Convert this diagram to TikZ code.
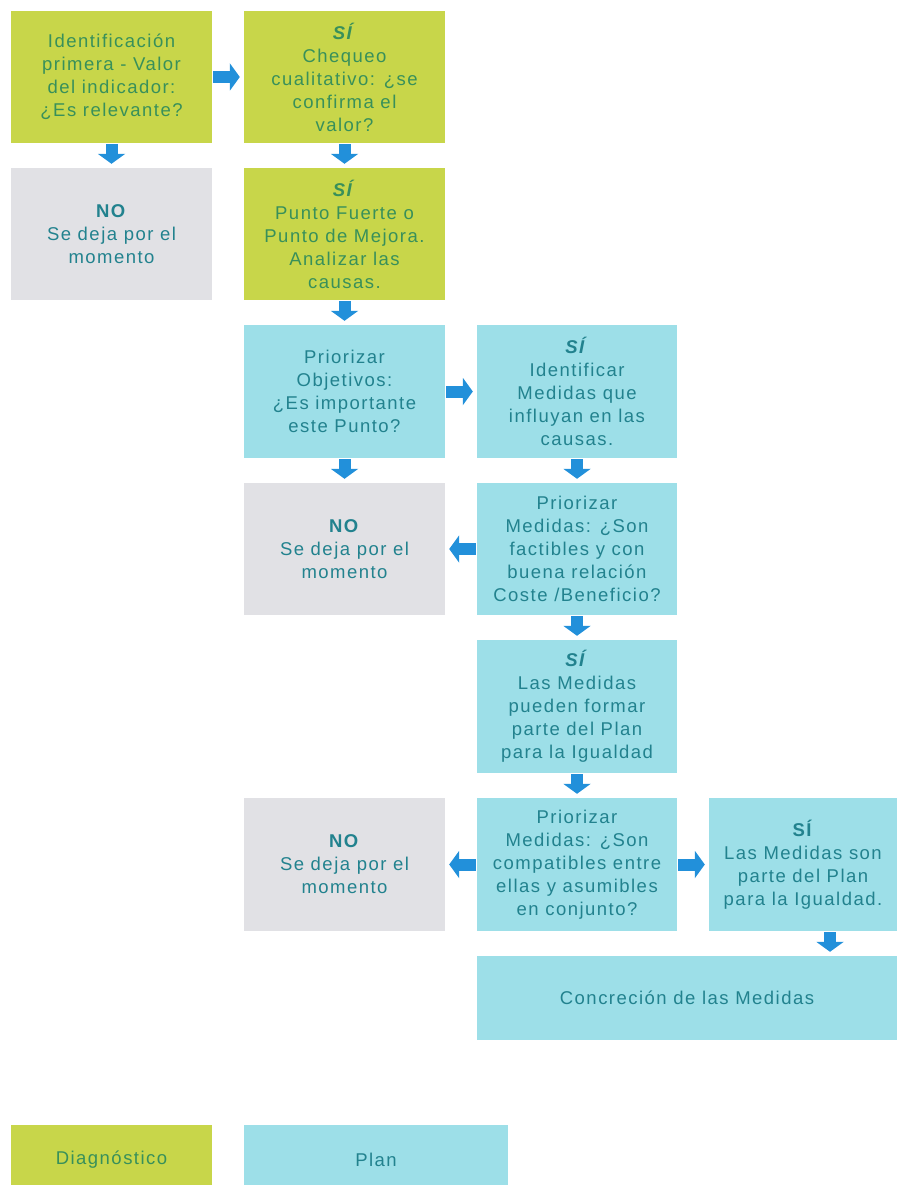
\documentclass[tikz,border=0pt]{standalone}
\usepackage{fontspec}
\setmainfont{Liberation Sans}[LetterSpace=8]
\usetikzlibrary{arrows.meta,calc}
\definecolor{gfill}{HTML}{C8D64A}
\definecolor{bfill}{HTML}{9DDFE8}
\definecolor{nfill}{HTML}{E1E1E5}
\definecolor{gtext}{HTML}{38905A}
\definecolor{btext}{HTML}{22828E}
\definecolor{arrcol}{HTML}{2290DA}
\newcommand{\si}{\textbf{\textit{SÍ}}}
\newcommand{\siup}{\textbf{SÍ}}
\newcommand{\no}{\textbf{NO}}
\begin{document}
\begin{tikzpicture}[x=1pt,y=-1pt,
  box/.style={rectangle, minimum width=201pt, minimum height=132pt, align=center,
              inner sep=0pt, font=\fontsize{18.5}{23}\selectfont},
  gbox/.style={box, fill=gfill, text=gtext},
  bbox/.style={box, fill=bfill, text=btext},
  nbox/.style={box, fill=nfill, text=btext},
  arr/.style={draw=arrcol, line width=12pt, -{Triangle[width=27pt,length=10pt]},
              shorten <=1pt, shorten >=4pt}]
\useasboundingbox (0,0) rectangle (897,1185);
\clip (0,0) rectangle (897,1185);
% row 1
\node[gbox] (g1) at (111.5,77) {Identificación\\primera - Valor\\del indicador:\\¿Es relevante?};
\node[gbox] (g2) at (344.5,77) {\si\\Chequeo\\cualitativo: ¿se\\confirma el\\valor?};
% row 2
\node[nbox] (n1) at (111.5,234) {\no\\Se deja por el\\momento};
\node[gbox] (g3) at (344.5,234) {\si\\Punto Fuerte o\\Punto de Mejora.\\Analizar las\\causas.};
% row 3
\node[bbox, minimum height=133pt] (b1) at (344.5,391.5) {Priorizar\\Objetivos:\\¿Es importante\\este Punto?};
\node[bbox, minimum height=133pt, minimum width=200pt] (b2) at (577,391.5) {\si\\Identificar\\Medidas que\\influyan en las\\causas.};
% row 4
\node[nbox] (n2) at (344.5,549) {\no\\Se deja por el\\momento};
\node[bbox, minimum width=200pt] (b3) at (577,549) {Priorizar\\Medidas: ¿Son\\factibles y con\\buena relación\\Coste /Beneficio?};
% row 5
\node[bbox, minimum height=133pt, minimum width=200pt] (b4) at (577,706.5) {\si\\Las Medidas\\pueden formar\\parte del Plan\\para la Igualdad};
% row 6
\node[nbox, minimum height=133pt] (n3) at (344.5,864.5) {\no\\Se deja por el\\momento};
\node[bbox, minimum height=133pt, minimum width=200pt] (b5) at (577,864.5) {Priorizar\\Medidas: ¿Son\\compatibles entre\\ellas y asumibles\\en conjunto?};
\node[bbox, minimum height=133pt, minimum width=188pt] (b6) at (803,864.5) {\siup\\Las Medidas son\\parte del Plan\\para la Igualdad.};
% row 7
\node[bbox, minimum height=84pt, minimum width=420pt] (conc) at (687,998) {Concreción de las Medidas};
% legend
\node[gbox, minimum height=70pt] (legD) at (111.5,1160) {Diagnóstico};
\node[bbox, minimum height=70pt, minimum width=264pt] (legP) at (376,1160) {Plan};
% arrows
\draw[arr] (g1.east) -- (g2.west);
\draw[arr] (g1.south) -- (n1.north);
\draw[arr] (g2.south) -- (g3.north);
\draw[arr] (g3.south) -- (b1.north);
\draw[arr] (b1.east) -- (b2.west);
\draw[arr] (b1.south) -- (n2.north);
\draw[arr] (b2.south) -- (b3.north);
\draw[arr] (b3.west) -- (n2.east);
\draw[arr] (b3.south) -- (b4.north);
\draw[arr] (b4.south) -- (b5.north);
\draw[arr] (b5.west) -- (n3.east);
\draw[arr] (b5.east) -- (b6.west);
\draw[arr] ([xshift=27pt]b6.south) -- ([xshift=27pt]b6.south |- conc.north);
\end{tikzpicture}
\end{document}
